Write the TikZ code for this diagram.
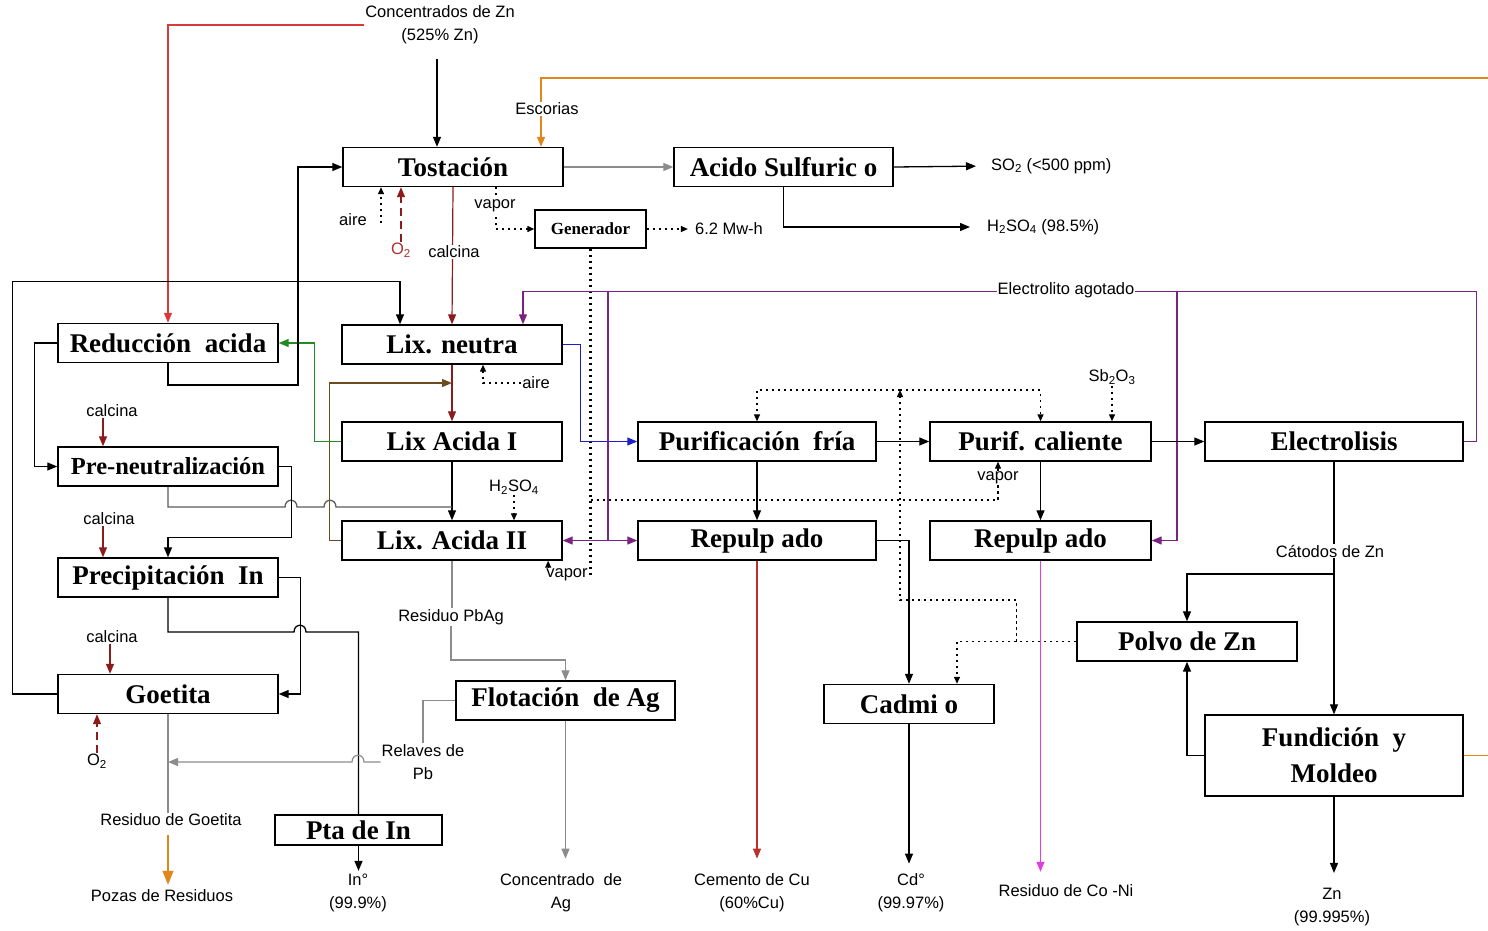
\documentclass[tikz,border=0pt]{standalone}
\usepackage{fontspec}
\usepackage{tikz}
\setmainfont{Liberation Serif}
\newfontfamily\labelfont{Liberation Sans}
\usetikzlibrary{arrows.meta, positioning}
\definecolor{rojo}{HTML}{D93A36}
\definecolor{vino}{HTML}{8E1B1B}
\definecolor{marron}{HTML}{6E4B1F}
\definecolor{verde}{HTML}{228B22}
\definecolor{azul}{HTML}{1F1FC8}
\definecolor{morado}{HTML}{7B2383}
\definecolor{fucsia}{HTML}{E23CE2}
\definecolor{naranja}{HTML}{E0861A}
\definecolor{gris}{HTML}{8C8C8C}
\definecolor{grisosc}{HTML}{5A5A5A}

\begin{document}
\begin{tikzpicture}[x=1pt, y=-1pt,
    box/.style={rectangle, draw, line width=1.4pt, minimum width=220pt, minimum height=39pt,
                inner sep=0pt, align=center, font=\fontsize{27}{36}\selectfont\bfseries},
    lbl/.style={inner sep=1pt, align=center, font=\labelfont\fontsize{16.5}{23}\selectfont},
    arrow/.style={-{Triangle[length=10pt,width=8pt]}, line width=1.3pt},
    tiny/.style={-{Triangle[length=7pt,width=6pt]}, line width=1.3pt},
    flow/.style={line width=1.2pt},
    dotline/.style={line width=2.2pt, dash pattern=on 2.2pt off 3.8pt},
    dashline/.style={line width=2.6pt, dash pattern=on 8pt off 5pt}
  ]
    \useasboundingbox (0,0) rectangle (1488,930);

    \node[box]                      (tost)  at (453,167)    {Tostación};
    \node[box, minimum width=219pt] (acid)  at (783.5,167)  {Acido Sulfuric o};
    \node[box, minimum width=111pt, minimum height=38pt,
          font=\fontsize{17}{20}\selectfont\bfseries] (gen) at (590.5,229) {Generador};
    \node[box]                      (red)   at (168,343)    {Reducción\ \ acida};
    \node[box]                      (lixn)  at (452,344.5)  {Lix. neutra};
    \node[box]                      (lixa1) at (452,441.5)  {Lix Acida I};
    \node[box, font=\fontsize{24.5}{30}\selectfont\bfseries] (pre) at (168,466.5) {Pre-neutralización};
    \node[box]                      (lixa2) at (452,540.5)  {Lix. Acida II};
    \node[box]                      (prec)  at (168,577.5)  {Precipitación\ \ In};
    \node[box]                      (goet)  at (168,694)    {Goetita};
    \node[box, minimum width=167pt, minimum height=30pt] (pta) at (358.5,830) {Pta de In};
    \node[box, minimum width=219pt] (flot)  at (565.5,700.5) {Flotación\ \ de Ag};
    \node[box, minimum width=238pt] (purf)  at (757,441.5)  {Purificación\ \ fría};
    \node[box, minimum width=221pt] (purc)  at (1040.5,441.5) {Purif. caliente};
    \node[box, minimum width=258pt] (elec)  at (1334,441.5) {Electrolisis};
    \node[box, minimum width=238pt] (rep1)  at (757,540.5)  {Repulp ado};
    \node[box, minimum width=221pt] (rep2)  at (1040.5,540.5) {Repulp ado};
    \node[box, minimum width=170pt] (cad)   at (909,704)    {Cadmi o};
    \node[box]                      (polvo) at (1187,641.5) {Polvo de Zn};
    \node[box, minimum width=258pt, minimum height=81pt] (fund) at (1334,755.5) {Fundición\ \ y\\Moldeo};

    \node[lbl] (conc)   at (440,25)   {Concentrados de Zn\\(525\% Zn)};
    \node[lbl, anchor=west] (so2)   at (990,166)  {SO\textsubscript{2} (<500 ppm)};
    \node[lbl, anchor=west] (h2so4) at (986,227)  {H\textsubscript{2}SO\textsubscript{4} (98.5\%)};
    \node[lbl] (mwh)    at (729,229)  {6.2 Mw-h};
    \node[lbl] (aire1)  at (353,220)  {aire};
    \node[lbl, text=rojo!80!black] (o2a) at (401,250) {O\textsubscript{2}};
    \node[lbl] (calc2)  at (112,411)  {calcina};
    \node[lbl] (calc3)  at (109,519)  {calcina};
    \node[lbl] (calc4)  at (112,637)  {calcina};
    \node[lbl] (aire2)  at (536,383)  {aire};
    \node[lbl] (h2so4b) at (514,487)  {H\textsubscript{2}SO\textsubscript{4}};
    \node[lbl] (vap2)   at (567,575)  {vapor};
    \node[lbl] (vap3)   at (998,478)  {vapor};
    \node[lbl] (sb)     at (1112,377) {Sb\textsubscript{2}O\textsubscript{3}};
    \node[lbl] (respb)  at (451,617)  {Residuo PbAg};
    \node[lbl] (relav)  at (423,762)  {Relaves de\\Pb};
    \node[lbl] (o2b)    at (97,761)   {O\textsubscript{2}};
    \node[lbl] (resgo)  at (171,820)  {Residuo de Goetita};
    \node[lbl] (pozas)  at (162,896)  {Pozas de Residuos};
    \node[lbl] (in)     at (358,893)  {In°\\(99.9\%)};
    \node[lbl] (concag) at (561,893)  {Concentrado\ \ de\\Ag};
    \node[lbl] (cem)    at (752,893)  {Cemento de Cu\\(60\%Cu)};
    \node[lbl] (cd)     at (911,893)  {Cd°\\(99.97\%)};
    \node[lbl] (resco)  at (1066,891) {Residuo de Co -Ni};
    \node[lbl] (zn)     at (1332,907) {Zn\\(99.995\%)};

    \coordinate (dtop) at (900,390);
    \coordinate (dpol) at ([xshift=-60pt]polvo.west);

    \draw[arrow] ([xshift=-3pt,yshift=-14pt]conc.south) -- ([xshift=-16pt]tost.north);
    \draw[rojo, arrow, flow] (conc.west) -| (red.north);
    \draw[naranja, arrow, line width=1.5pt] (fund.east) -- (1500,755.5) |- ([xshift=88pt,yshift=69pt]tost.north) -- ([xshift=88pt]tost.north);
    \draw[gris, arrow, flow] (tost.east) -- (acid.west);
    \draw[arrow, shorten >=14pt] (acid.east) -- (so2.west);
    \draw[arrow, shorten >=16pt] (acid.south) |- (h2so4.west);
    \draw[dotline, tiny] ([xshift=-72pt,yshift=-36pt]tost.south) -- ([xshift=-72pt]tost.south);
    \draw[vino, dashline, arrow] (o2a.north) -- (o2a.north |- tost.south);
    \draw[dotline, tiny] ([xshift=43pt]tost.south) |- (gen.west);
    \draw[dotline, tiny, shorten >=6pt] (gen.east) -- (mwh.west);
    \draw[vino, arrow, flow] (tost.south) -- (lixn.north);
    \draw[dotline, line width=2.8pt] (gen.south) |- (vap2.east);
    \draw[tiny] ([xshift=3pt]vap2.north west) -- ([xshift=3pt]vap2.north west |- lixa2.south);
    \draw[dotline, line width=2.8pt] (gen.south |- 0,500) -| (vap3.south);
    \draw[tiny] (vap3.north) -- (vap3.north |- purc.south);
    \draw[azul, arrow, flow] (lixn.east) -- ++(18,0) |- (purf.west);
    \draw[dotline, tiny] (aire2.west) -| ([xshift=31pt]lixn.south);
    \draw[vino, arrow, flow] (lixn.south) -- (lixa1.north);
    \draw[marron, arrow, flow] (lixa2.west) -- ++(-12,0) |- (lixn.south |- 0,383);
    \draw[verde, arrow, flow] (lixa1.west) -- ++(-27,0) |- (red.east);
    \draw[arrow] (lixa1.south) -- (lixa2.north);
    \draw[dotline, tiny] (h2so4b.south) -- (h2so4b.south |- lixa2.north);
    \draw[grisosc, line width=1.3pt] (pre.south) |- (285,507) .. controls (285,498) and (297,498) .. (297,507)
        -- (324,507) .. controls (324,498) and (336,498) .. (336,507) -- (lixa2.north |- 0,507);
    \draw[arrow] (pre.east) -- ++(13,0) |- ([yshift=20pt]prec.north) -- (prec.north);
    \draw[arrow] (red.west) -- ++(-23,0) |- (pre.west);
    \draw[arrow] (red.south) |- (298,385) |- (tost.west);
    \draw[arrow] (goet.west) -- ++(-45,0) |- ([xshift=-52pt,yshift=43pt]lixn.north) -- ([xshift=-52pt]lixn.north);
    \draw[morado, arrow, flow] (elec.east) -- ++(13,0) |- ([xshift=71pt,yshift=33pt]lixn.north) -- ([xshift=71pt]lixn.north);
    \draw[morado, flow] (608,292) -- (608,540.5);
    \draw[morado, {Triangle[length=10pt,width=8pt]}-{Triangle[length=10pt,width=8pt]}, line width=1.3pt] (lixa2.east) -- (rep1.west);
    \draw[morado, arrow, flow] (1177,292) |- (rep2.east);
    \draw[arrow] (purf.east) -- (purc.west);
    \draw[arrow] (purc.east) -- (elec.west);
    \draw[arrow] (purf.south) -- (rep1.north);
    \draw[arrow] (purc.south) -- (rep2.north);
    \draw[dotline, tiny] (sb.south) -- (sb.south |- purc.north);
    \draw[dotline, tiny] (polvo.west) -| ([xshift=48pt]cad.north);
    \draw[dotline, tiny] (dpol) |- (900,600) -- (dtop);
    \draw[dotline, tiny] (dtop) -| (purf.north);
    \draw[dotline, tiny] (dtop) -| (purc.north);
    \draw[arrow] (rep1.east) -| (cad.north);
    \draw[rojo!85!black, arrow, flow, shorten >=14pt] (rep1.south) -- (rep1.south |- cem.north);
    \draw[fucsia, arrow, flow, shorten >=12pt] (rep2.south) -- (rep2.south |- resco.north);
    \draw[arrow, shorten >=9pt] (cad.south) -- (cad.south |- cd.north);
    \draw[arrow] (elec.south) -- (fund.north);
    \draw[arrow] (elec.south |- 0,574) -| (polvo.north);
    \draw[arrow] (fund.west) -| (polvo.south);
    \draw[arrow, shorten >=14pt] (fund.south) -- (fund.south |- zn.north);
    \draw[arrow] (prec.east) -- ++(22,0) |- (goet.east);
    \draw[line width=1.3pt] (prec.south) |- (294,632) .. controls (294,623) and (306,623) .. (306,632) -| (pta.north);
    \draw[arrow, shorten >=2pt] (pta.south) -- (pta.south |- in.north);
    \draw[vino, arrow] ([xshift=-9pt]calc2.south) -- ([xshift=-9pt]calc2.south |- pre.north);
    \draw[vino, arrow] ([xshift=-6pt]calc3.south) -- ([xshift=-6pt]calc3.south |- prec.north);
    \draw[vino, arrow] ([xshift=-2pt]calc4.south) -- ([xshift=-2pt]calc4.south |- goet.north);
    \draw[vino, dashline, arrow] (o2b.north) -- (o2b.north |- goet.south);
    \draw[gris, flow] (goet.south) -- (goet.south |- resgo.north);
    \draw[naranja, line width=1.3pt, -{Triangle[length=14pt,width=11pt]}, shorten <=8pt, shorten >=4pt]
        (goet.south |- resgo.south) -- (goet.south |- pozas.north);
    \draw[gris, flow] (flot.west) -| (relav.north);
    \draw[gris, arrow, flow] (relav.west) -- (364,762) .. controls (364,753) and (352,753) .. (352,762)
        -- (goet.south |- relav.west);
    \draw[gris, flow] (lixa2.south) -- (lixa2.south |- respb.north);
    \draw[gris, arrow, flow] (respb.south) |- (flot.north |- 0,660) -- (flot.north);
    \draw[gris, arrow, flow, shorten >=14pt] (flot.south) -- (flot.south |- concag.north);

    \node[lbl, fill=white] (esc)   at (547,109)  {Escorias};
    \node[lbl, fill=white] (vap1)  at (495,206)  {vapor};
    \node[lbl, fill=white] (calc1) at (454,252)  {calcina};
    \node[lbl, fill=white] (elag)  at (1066,290) {Electrolito agotado};
    \node[lbl, fill=white] (cat)   at (1330,551) {Cátodos de Zn};
\end{tikzpicture}
\end{document}
